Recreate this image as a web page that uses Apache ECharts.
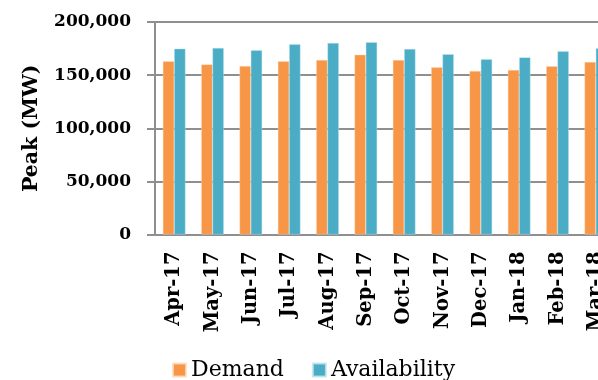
<!DOCTYPE html>
<html>
<head>
<meta charset="utf-8">
<script src="https://cdn.jsdelivr.net/npm/echarts@6/dist/echarts.min.js"></script>
<style>
html,body{margin:0;padding:0;background:#fff;}
#chart{width:598px;height:380px;}
</style>
</head>
<body>
<div id="chart"></div>
<script>
const categories = ['Apr-17','May-17','Jun-17','Jul-17','Aug-17','Sep-17','Oct-17','Nov-17','Dec-17','Jan-18','Feb-18','Mar-18'];
const demand = [163000,160100,158500,163000,164200,169200,164200,157300,153800,154800,158300,162300];
const availability = [174900,175500,173300,179000,180200,180900,174600,169600,164900,166700,172400,175200];
const yTicks = {min:0, max:200000, interval:50000};

const chart = echarts.init(document.getElementById('chart'), null, {renderer:'canvas'});
const serif = 'DejaVu Serif';
chart.setOption({
  animation:false,
  backgroundColor:'#fff',
  grid:{left:155, top:22, width:460, height:212.5, containLabel:false, outerBoundsMode:'none'},
  legend:{
    bottom:-1, left:172, padding:0,
    itemWidth:13, itemHeight:13, itemGap:28,
    icon:'rect',
    textStyle:{fontFamily:serif, fontSize:22, color:'#000', padding:[0,0,0,0]},
    data:['Demand','Availability']
  },
  xAxis:{
    type:'category', data:categories,
    axisLine:{show:true, lineStyle:{color:'#8f8f8f', width:2}},
    axisTick:{show:false},
    axisLabel:{rotate:90, interval:0, fontFamily:serif, fontWeight:'bold', fontSize:19.5, color:'#000', margin:17}
  },
  yAxis:{
    type:'value', min:yTicks.min, max:yTicks.max, interval:yTicks.interval,
    name:'Peak (MW)', nameLocation:'middle', nameGap:113,
    nameTextStyle:{fontFamily:serif, fontWeight:'bold', fontSize:20.5, color:'#000'},
    axisLine:{show:true, lineStyle:{color:'#8f8f8f', width:2}},
    axisTick:{show:true, length:8, lineStyle:{color:'#8f8f8f', width:2}},
    splitLine:{show:true, lineStyle:{color:'#8f8f8f', width:2}},
    axisLabel:{fontFamily:serif, fontWeight:'bold', fontSize:17, color:'#000', margin:24,
      formatter:v=>v.toLocaleString('en-US')}
  },
  series:[
    {name:'Demand', type:'bar', data:demand, barWidth:11.3, barGap:'0%',
     itemStyle:{color:'#F79646', borderColor:'rgba(255,220,190,0.8)', borderWidth:0.5}},
    {name:'Availability', type:'bar', data:availability, barWidth:11.3, barGap:'0%',
     itemStyle:{color:'#4BACC6', borderColor:'rgba(190,230,240,0.8)', borderWidth:0.5}}
  ]
});
</script>
</body>
</html>
